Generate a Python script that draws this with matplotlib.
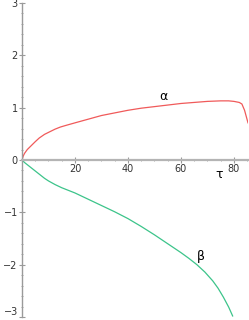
import numpy as np
import matplotlib.pyplot as plt
from matplotlib.ticker import MultipleLocator

plt.rcParams['font.family'] = 'DejaVu Sans'
plt.rcParams['font.size'] = 7

# alpha(tau)
tau_a = [0, 0.5, 1, 2, 3, 4, 5, 6.5, 8.5, 10.5, 12.5, 14.5, 16.5, 20, 25, 30, 35, 40,
         45, 50, 55, 60, 65, 70, 75, 78, 80, 82, 83, 84, 85.3]
alpha = [0, 0.08, 0.13, 0.2, 0.25, 0.3, 0.35, 0.42, 0.49, 0.54, 0.59, 0.63, 0.66, 0.71, 0.78,
         0.85, 0.9, 0.95, 0.99, 1.02, 1.05, 1.08, 1.1, 1.12, 1.13, 1.13, 1.12, 1.1, 1.07, 0.95, 0.71]

# beta(tau)
tau_b = [0, 1, 2, 3, 4, 5, 6.5, 8.5, 10, 12.5, 15, 17.5, 20, 25, 30, 35, 40, 45, 50, 55,
         60, 63, 66, 69, 72, 74, 76, 78, 79.5]
beta = [0, -0.05, -0.09, -0.13, -0.17, -0.21, -0.27, -0.35, -0.4, -0.47, -0.53, -0.58, -0.63,
        -0.75, -0.87, -0.99, -1.12, -1.27, -1.43, -1.6, -1.77, -1.88, -2.0, -2.14, -2.31, -2.45,
        -2.62, -2.81, -2.98]

fig = plt.figure(figsize=(2.49, 3.2), dpi=100)
ax = fig.add_axes([22 / 249, 3 / 320, 226 / 249, 314 / 320])

ax.plot(tau_a, alpha, color='#f05a5a', lw=0.9)
ax.plot(tau_b, beta, color='#3cc48a', lw=0.9)

ax.set_xlim(0, 85.3)
ax.set_ylim(-3, 3)

# axes crossing at origin, maple style
for s in ['top', 'right']:
    ax.spines[s].set_visible(False)
ax.spines['left'].set_position(('data', 0))
ax.spines['bottom'].set_position(('data', 0))
ax.spines['left'].set_color('#9a9a9a')
ax.spines['left'].set_linewidth(1.0)
ax.spines['bottom'].set_linewidth(1.6)
ax.spines['bottom'].set_color('#b4b4b4')

ax.xaxis.set_minor_locator(MultipleLocator(5))
ax.yaxis.set_minor_locator(MultipleLocator(0.2))
ax.set_xticks([20, 40, 60, 80])
ax.tick_params(axis='both', which='both', direction='inout', color='#9a9a9a',
               labelcolor='#333333', labelsize=7, pad=1)
ax.tick_params(which='major', length=4, width=0.8)
ax.tick_params(which='minor', length=2, width=0.6)
ax.set_yticks([-3, -2, -1, 0, 1, 2, 3])
ax.set_yticklabels(['\u22123', '\u22122', '\u22121', '0', '1', '2', '3'])
ax.get_yticklabels()[0].set_va('bottom')

ax.text(53.5, 1.22, '\u03b1', fontsize=9, ha='center', va='center')
ax.text(67.5, -1.85, '\u03b2', fontsize=9, ha='center', va='center')
ax.text(74.5, -0.28, '\u03c4', fontsize=9, ha='center', va='center')

fig.savefig('out.png', dpi=100)
